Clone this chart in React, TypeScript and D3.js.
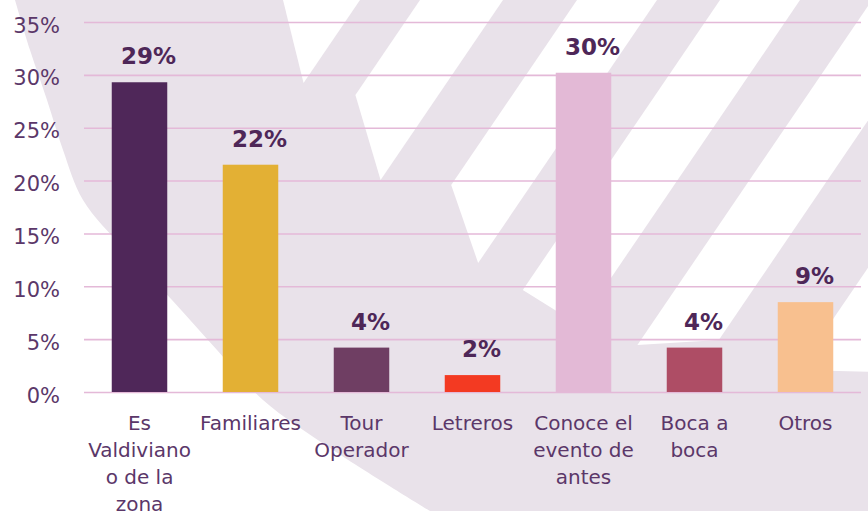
import React, { useRef, useEffect } from "react";
import {
  select,
  scaleBand,
  scaleLinear,
  axisLeft,
  axisBottom,
  line,
  curveCatmullRom,
} from "d3";

const categories = [
  "Es Valdiviano o de la zona",
  "Familiares",
  "Tour Operador",
  "Letreros",
  "Conoce el evento de antes",
  "Boca a boca",
  "Otros",
];
const shares = [29.3, 21.5, 4.2, 1.6, 30.2, 4.2, 8.5];
const barColors = [
  "#4f2759",
  "#e3b034",
  "#6f3e63",
  "#f33a22",
  "#e3b9d6",
  "#ae4d65",
  "#f8c08f",
];
const yTicks = [0, 5, 10, 15, 20, 25, 30, 35];

// watermark behind the chart: left edge of the mauve shape
const blobEdge = [
  [15, 0], [30, 50], [47, 100], [63, 150], [83, 200], [125, 250],
  [172, 300], [217, 350], [263, 400], [333, 450], [430, 511],
];
// white slanted stripes: x left/right at the top, bottom y at left/right edge
const stripes = [
  [283, 360, 0, 83],
  [420, 503, 95, 180],
  [577, 657, 185, 263],
  [720, 800, 290, 325],
  [872, 950, 345, 340],
  [1050, 1130, 370, 372],
];

const W = 868;
const H = 511;

const App = () => {
  const svgRef = useRef(null);

  useEffect(() => {
    const svg = select(svgRef.current);
    svg.selectAll("*").remove();

    const left = 84;
    const right = 861;

    const x = scaleBand()
      .domain(categories)
      .range([left, right])
      .paddingInner(0.5)
      .paddingOuter(0.25);
    const y = scaleLinear().domain([0, 35]).range([392, 22]);

    // background decoration
    svg.append("rect").attr("width", W).attr("height", H).attr("fill", "#ffffff");
    const edge = line().curve(curveCatmullRom)(blobEdge);
    svg
      .append("path")
      .attr("d", edge + `L${W},${H}L${W},0Z`)
      .attr("fill", "#e9e2ea");
    const k = 0.68; // slant of the stripes
    svg
      .selectAll(".stripe")
      .data(stripes)
      .join("polygon")
      .attr("class", "stripe")
      .attr("fill", "#ffffff")
      .attr("points", (s) =>
        [
          [s[0], 0],
          [s[1], 0],
          [s[1] - k * s[3], s[3]],
          [s[0] - k * s[2], s[2]],
        ]
          .map((p) => p.join(","))
          .join(" ")
      );

    // y axis + gridlines
    const yAxis = axisLeft(y)
      .tickValues(yTicks)
      .tickSize(-(right - left))
      .tickPadding(24)
      .tickFormat((d) => d + "%");
    const gy = svg
      .append("g")
      .attr("transform", `translate(${left},0)`)
      .call(yAxis);
    gy.select(".domain").remove();
    gy.selectAll(".tick line").attr("stroke", "#e4b9d8").attr("stroke-width", 1.6);
    gy.selectAll(".tick text")
      .attr("fill", "#5b3769")
      .attr("font-family", "DejaVu Sans")
      .attr("font-size", 21)
      .attr("dy", "0.48em");

    // bars
    svg
      .selectAll(".bar")
      .data(shares)
      .join("rect")
      .attr("class", "bar")
      .attr("x", (d, i) => x(categories[i]))
      .attr("y", (d) => y(d))
      .attr("width", x.bandwidth())
      .attr("height", (d) => y(0) - y(d))
      .attr("fill", (d, i) => barColors[i]);

    // value labels
    svg
      .selectAll(".value")
      .data(shares)
      .join("text")
      .attr("class", "value")
      .attr("x", (d, i) => x(categories[i]) + x.bandwidth() / 2 + 9)
      .attr("y", (d) => y(d) - 18)
      .attr("text-anchor", "middle")
      .attr("font-family", "DejaVu Sans")
      .attr("font-weight", "bold")
      .attr("font-size", 23)
      .attr("fill", "#4e2758")
      .text((d) => Math.round(d) + "%");

    // x axis with wrapped category names
    const gx = svg
      .append("g")
      .attr("transform", `translate(0,${y(0)})`)
      .call(axisBottom(x).tickSize(0));
    gx.select(".domain").remove();
    gx.selectAll(".tick text")
      .attr("fill", "#5b3769")
      .attr("font-family", "DejaVu Sans")
      .attr("font-size", 20)
      .attr("y", 38)
      .attr("dy", "0em")
      .call(wrap, 108);
  }, []);

  return (
    <svg
      ref={svgRef}
      width={W}
      height={H}
      style={{ position: "absolute", left: 0, top: 0 }}
    />
  );
};

// split a label into lines that fit the given width
function wrap(texts, width) {
  texts.each(function () {
    const text = select(this);
    const words = text.text().split(/\s+/);
    const yPos = text.attr("y");
    let lineWords = [];
    let lineNo = 0;
    let tspan = text.text(null).append("tspan").attr("x", 0).attr("y", yPos);
    for (const word of words) {
      lineWords.push(word);
      tspan.text(lineWords.join(" "));
      if (tspan.node().getComputedTextLength() > width && lineWords.length > 1) {
        lineWords.pop();
        tspan.text(lineWords.join(" "));
        lineWords = [word];
        lineNo += 1;
        tspan = text
          .append("tspan")
          .attr("x", 0)
          .attr("y", yPos)
          .attr("dy", lineNo * 27 + "px")
          .text(word);
      }
    }
  });
}

export default App;
